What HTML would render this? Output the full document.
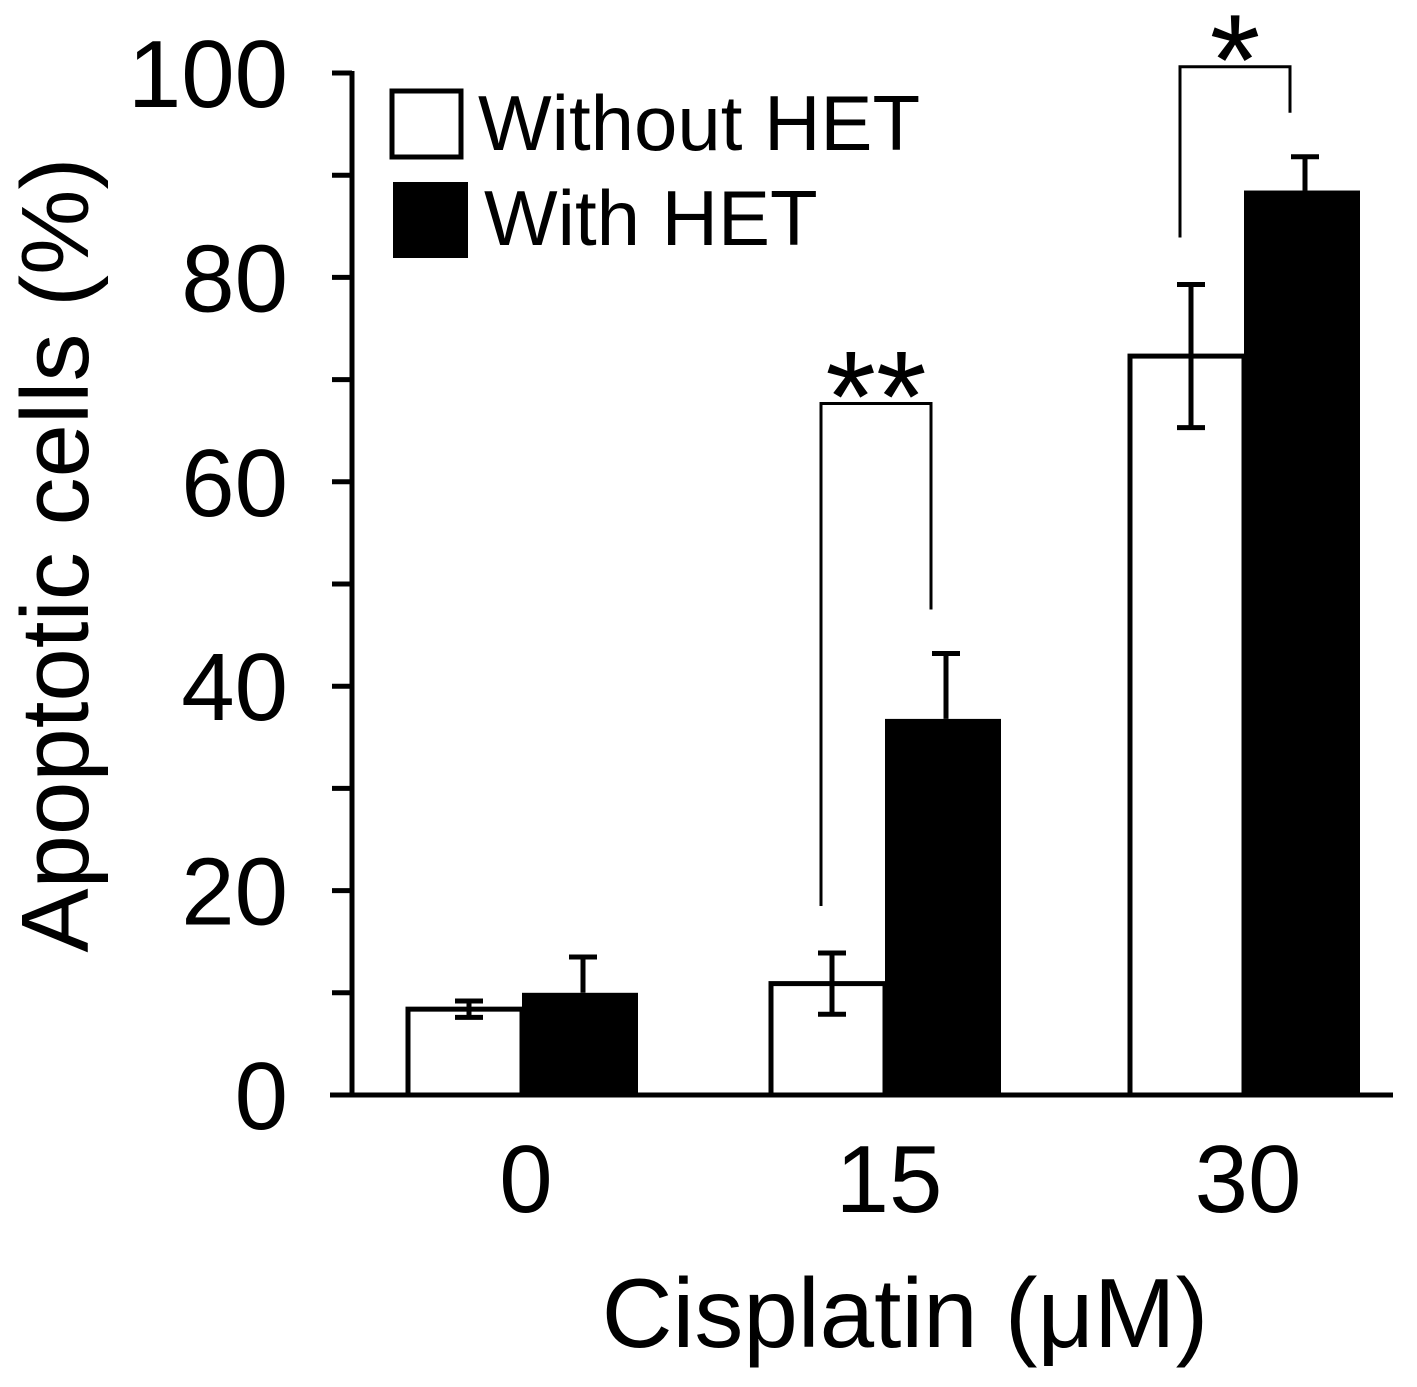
<!DOCTYPE html>
<html><head><meta charset="utf-8"><style>
body{margin:0;background:#fff}
svg text{font-family:"Liberation Sans",Arial,sans-serif;fill:#000}
</style></head><body>
<svg id="chart" width="1417" height="1382" viewBox="0 0 1417 1382" xmlns="http://www.w3.org/2000/svg">
<g id="axes"></g>
<g id="bars"></g>
<g id="sig"></g>
<g>
<rect x="392" y="91" width="69" height="66" fill="#fff" stroke="#000" stroke-width="5"/>
<text x="478" y="150" font-size="78">Without HET</text>
<rect x="393" y="182" width="75" height="76" fill="#000"/>
<text x="484" y="245" font-size="78">With HET</text>
</g>
<text x="905" y="1347" font-size="98" text-anchor="middle">Cisplatin (μM)</text>
<text transform="translate(88,555) rotate(-90)" font-size="96" text-anchor="middle">Apoptotic cells (%)</text>
</svg>
<script>
const categories=["0","15","30"];
const withoutHET=[8.4,10.9,72.3];
const withoutErr=[0.8,3.0,7.0];
const withHET=[10.0,36.8,88.5];
const withErr=[3.5,6.4,3.3];
const yTicks=[0,20,40,60,80,100];
const sigLabels=["","**","*"];
const NS="http://www.w3.org/2000/svg";
const y0=1095,pxPer=10.22;
function Y(v){return y0-v*pxPer;}
const groupLeft=[408,771,1130],barW=114;
function mk(tag,attrs,parent){const e=document.createElementNS(NS,tag);for(const k in attrs)e.setAttribute(k,attrs[k]);parent.appendChild(e);return e;}
const axes=document.getElementById('axes'),bars=document.getElementById('bars'),sig=document.getElementById('sig');
let l=mk('line',{x1:352,y1:Y(100)-2,x2:352,y2:y0+2,stroke:'#000','stroke-width':5},axes);

l=mk('line',{x1:330,y1:y0,x2:1393,y2:y0,stroke:'#000','stroke-width':5},axes);

for(let v=0;v<=100;v+=10){const t=mk('line',{x1:332,y1:Y(v),x2:352,y2:Y(v),stroke:'#000','stroke-width':5},axes);
}
yTicks.forEach(v=>{const t=mk('text',{x:288,y:Y(v)+34,'font-size':96,'text-anchor':'end'},axes);t.textContent=v;
});
categories.forEach((c,i)=>{
 const gx=groupLeft[i];
 const t=mk('text',{x:gx+barW+4,y:1212,'font-size':96,'text-anchor':'middle'},axes);t.textContent=c;
 
 const w=mk('rect',{x:gx,y:Y(withoutHET[i]),width:barW,height:y0-Y(withoutHET[i]),fill:'#fff',stroke:'#000','stroke-width':5},bars);
 
 const b=mk('rect',{x:gx+barW,y:Y(withHET[i]),width:barW+2,height:y0-Y(withHET[i]),fill:'#000'},bars);
 
 const cx1=gx+barW/2+4,cx2=gx+barW*1.5+4;
 const e1=mk('path',{d:`M${cx1-14},${Y(withoutHET[i]+withoutErr[i])}h28M${cx1},${Y(withoutHET[i]+withoutErr[i])}V${Y(withoutHET[i]-withoutErr[i])}M${cx1-14},${Y(withoutHET[i]-withoutErr[i])}h28`,stroke:'#000','stroke-width':5,fill:'none'},bars);
 
 const e2=mk('path',{d:`M${cx2-14},${Y(withHET[i]+withErr[i])}h28M${cx2},${Y(withHET[i]+withErr[i])}V${Y(withHET[i])}`,stroke:'#000','stroke-width':5,fill:'none'},bars);
 
 if(sigLabels[i]){
  const lx=gx+50,rx=gx+160;
  const top=Y(withHET[i]+withErr[i])-(i===1?250:90);
  const p=mk('path',{d:`M${lx},${Y(withoutHET[i]+withoutErr[i])-47}V${top}H${rx}V${Y(withHET[i]+withErr[i])-44}`,stroke:'#000','stroke-width':3,fill:'none'},sig);
  
  const s=mk('text',{x:(lx+rx)/2,y:top+38,'font-size':130,'text-anchor':'middle'},sig);s.textContent=sigLabels[i];
  
 }
});
</script>
</body></html>
